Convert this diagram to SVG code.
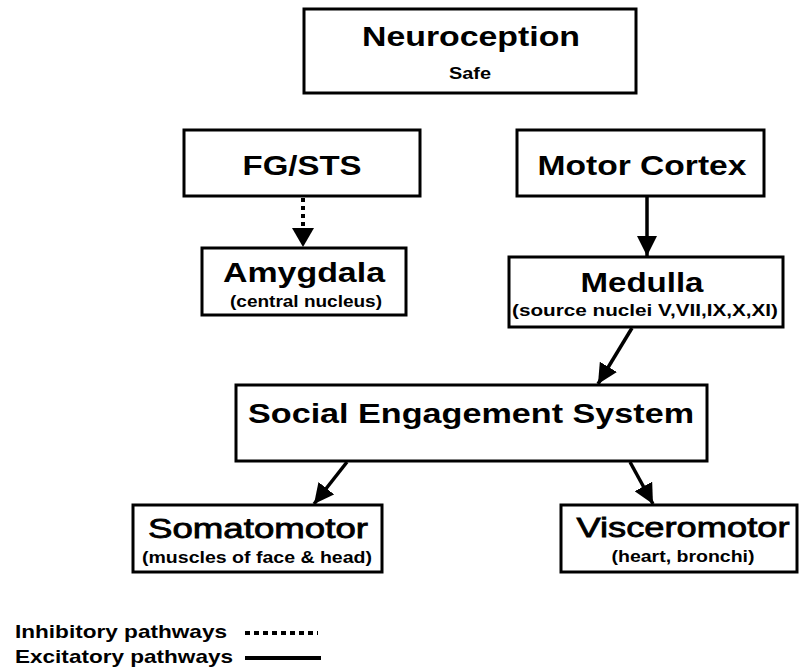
<svg xmlns="http://www.w3.org/2000/svg" width="800" height="671" viewBox="0 0 800 671">
<style>
.box{fill:#fff;stroke:#000;stroke-width:3}
.t{font-family:"Liberation Sans",Arial,sans-serif;fill:#000;text-anchor:middle;font-weight:bold}
.big{font-size:28px}
.reg{font-weight:normal;stroke:#000;stroke-width:0.8}
.sub{font-size:16px}
.leg{font-family:"Liberation Sans",Arial,sans-serif;font-size:19px;font-weight:bold;fill:#000}
.c{stroke:#000;stroke-width:3.5;fill:none}
.d{stroke:#000;stroke-width:4;fill:none;stroke-dasharray:4 4}
</style>
<defs>
<marker id="ah" viewBox="0 0 10 10" refX="10" refY="5" markerWidth="20" markerHeight="20" markerUnits="userSpaceOnUse" orient="auto">
<path d="M0,0 L10,5 L0,10 Z" fill="#000"/>
</marker>
</defs>
<rect width="800" height="671" fill="#fff"/>
<g id="neuroception">
<rect class="box" x="304" y="9" width="332" height="84"/>
<text class="t big" x="471" y="46" textLength="218" lengthAdjust="spacingAndGlyphs">Neuroception</text>
<text class="t sub" x="470" y="79" textLength="42" lengthAdjust="spacingAndGlyphs">Safe</text>
</g>
<g id="fgsts">
<rect class="box" x="184" y="130" width="236" height="66"/>
<text class="t big" x="302" y="175" textLength="119" lengthAdjust="spacingAndGlyphs">FG/STS</text>
</g>
<g id="motorcortex">
<rect class="box" x="517" y="130" width="247" height="66"/>
<text class="t big" x="642" y="175" textLength="209" lengthAdjust="spacingAndGlyphs">Motor Cortex</text>
</g>
<g id="amygdala">
<rect class="box" x="202" y="248" width="204" height="67"/>
<text class="t big" x="304" y="282" textLength="162" lengthAdjust="spacingAndGlyphs">Amygdala</text>
<text class="t sub" x="306" y="307" textLength="152" lengthAdjust="spacingAndGlyphs">(central nucleus)</text>
</g>
<g id="medulla">
<rect class="box" x="509" y="257" width="274" height="70"/>
<text class="t big" x="642" y="292" textLength="123" lengthAdjust="spacingAndGlyphs">Medulla</text>
<text class="t sub" x="645" y="316" textLength="266" lengthAdjust="spacingAndGlyphs">(source nuclei V,VII,IX,X,XI)</text>
</g>
<g id="ses">
<rect class="box" x="236" y="385" width="471" height="76"/>
<text class="t big" x="471" y="423" textLength="446" lengthAdjust="spacingAndGlyphs">Social Engagement System</text>
</g>
<g id="somatomotor">
<rect class="box" x="133" y="505" width="249" height="67"/>
<text class="t big reg" x="258" y="538" textLength="220" lengthAdjust="spacingAndGlyphs">Somatomotor</text>
<text class="t sub" x="257" y="563" textLength="230" lengthAdjust="spacingAndGlyphs">(muscles of face &amp; head)</text>
</g>
<g id="visceromotor">
<rect class="box" x="561" y="505" width="236" height="67"/>
<text class="t big reg" x="683" y="537" textLength="213" lengthAdjust="spacingAndGlyphs">Visceromotor</text>
<text class="t sub" x="683" y="562" textLength="143" lengthAdjust="spacingAndGlyphs">(heart, bronchi)</text>
</g>
<g id="connectors">
<line class="d" x1="303" y1="198" x2="303" y2="228"/>
<path d="M292,228 L314,228 L303,247 Z" fill="#000"/>
<line class="c" x1="647" y1="197" x2="647" y2="256" marker-end="url(#ah)"/>
<line class="c" x1="632" y1="328" x2="598" y2="384" marker-end="url(#ah)"/>
<line class="c" x1="347" y1="462" x2="314" y2="504" marker-end="url(#ah)"/>
<line class="c" x1="630" y1="462" x2="653" y2="504" marker-end="url(#ah)"/>
</g>
<g id="legend">
<text class="leg" x="15" y="638" textLength="212" lengthAdjust="spacingAndGlyphs">Inhibitory pathways</text>
<line x1="245" y1="633" x2="318" y2="633" stroke="#000" stroke-width="4" stroke-dasharray="5 4"/>
<text class="leg" x="15" y="663" textLength="218" lengthAdjust="spacingAndGlyphs">Excitatory pathways</text>
<line x1="245" y1="658" x2="321" y2="658" stroke="#000" stroke-width="4"/>
</g>
</svg>
